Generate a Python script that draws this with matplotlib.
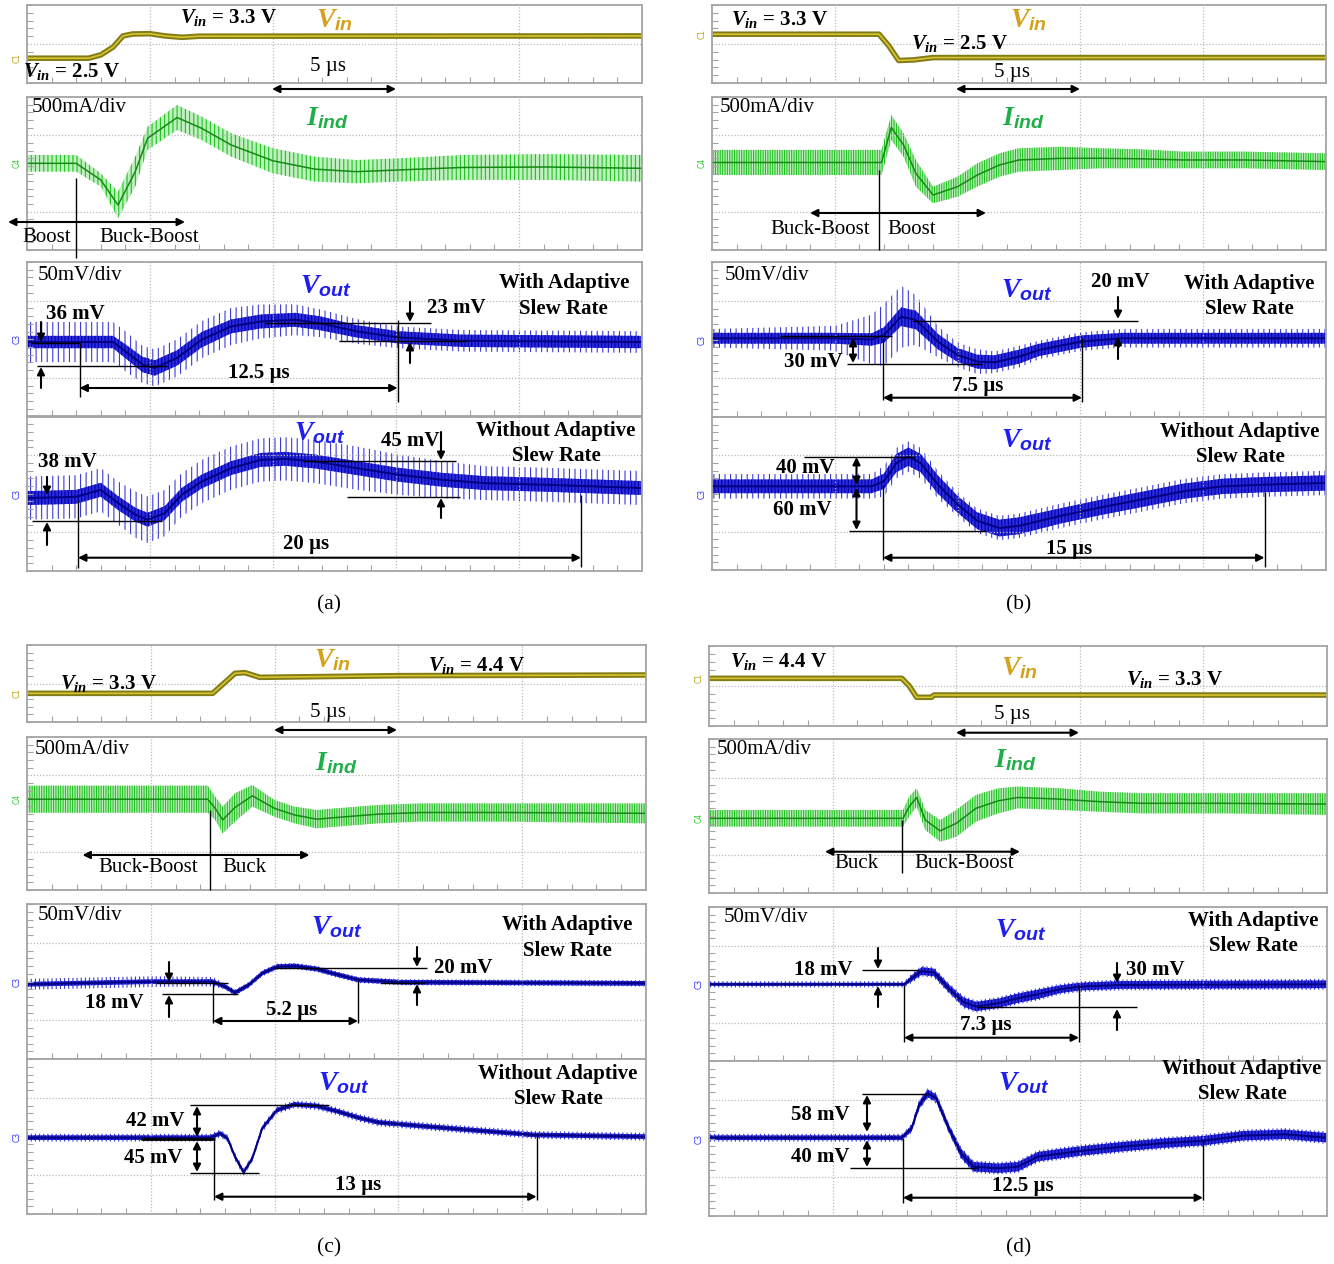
import numpy as np
import matplotlib
matplotlib.use('Agg')
import matplotlib.pyplot as plt
import matplotlib.transforms as mtrans

plt.rcParams['mathtext.fontset'] = 'custom'
plt.rcParams['mathtext.it'] = 'Liberation Serif:italic:bold'
plt.rcParams['mathtext.rm'] = 'Liberation Serif:bold'
plt.rcParams['mathtext.sf'] = 'Liberation Sans:italic:bold'
plt.rcParams['hatch.linewidth'] = 0.8

# ---------------- values read off the scope shots (time in us) ----------------
# (a) Vin 2.5 V -> 3.3 V
a_vin_t = [0, 2.5, 3.0, 3.5, 3.9, 4.3, 5.0, 5.6, 6.3, 7.0, 25]
a_vin_v = [2.5, 2.5, 2.62, 2.9, 3.3, 3.37, 3.38, 3.3, 3.25, 3.29, 3.3]
a_ind_t = [0, 2.0, 3.0, 3.7, 4.4, 4.9, 6.1, 7.1, 8.3, 10.0, 11.7, 13.4, 15.1, 17.7, 21.1, 25]
a_ind_hi = [121, 121, 1, -119, 110, 306, 448, 372, 263, 165, 110, 88, 99, 121, 127, 121]
a_ind_lo = [12, 12, -86, -293, -86, 154, 284, 219, 110, 1, -53, -64, -53, -42, -42, -53]
a_out1_t = [0, 3.5, 4.0, 4.7, 5.2, 6.1, 7.1, 8.3, 9.5, 10.9, 11.9, 13.4, 15.1, 17.7, 25]
a_out1_mv = [-1.8, -1.8, -7.8, -16.4, -18.6, -12.1, -0.3, 8.3, 11.5, 12.6, 10.4, 5.1, 1.2, -1.0, -1.8]
a_out1_rip = [4, 4, 4.5, 5, 5, 5, 5, 4.5, 4.5, 4.5, 4.5, 4, 4, 4, 4]
a_out1_spk = [13, 13, 13, 12, 12, 12, 12, 12, 11, 10, 9, 8, 7, 7, 7]
a_out2_t = [0, 2.0, 3.0, 3.7, 4.4, 4.9, 5.6, 6.3, 7.1, 8.3, 9.5, 10.5, 11.7, 13.4, 15.1, 16.9, 18.6, 21.1, 25]
a_out2_mv = [-2.8, -2.0, 2.6, -6.0, -13.5, -16.8, -12.5, -0.6, 7.9, 16.6, 21.9, 22.6, 20.9, 16.6, 12.3, 9.0, 6.9, 5.8, 3.7]
a_out2_rip = [4.5] * 19
a_out2_spk = [14, 14, 14, 14, 15, 15, 15, 14, 14, 14, 14, 14, 14, 14, 13, 12, 11, 11, 11]

# (b) Vin 3.3 V -> 2.5 V
b_vin_t = [0, 6.8, 7.2, 7.6, 8.2, 9.0, 25]
b_vin_v = [3.3, 3.3, 2.9, 2.4, 2.42, 2.5, 2.5]
b_ind_t = [0, 6.9, 7.3, 7.8, 8.3, 9.0, 10.0, 10.8, 11.7, 12.5, 14.2, 15.8, 17.5, 19.2, 21.7, 25]
b_ind_hi = [154, 154, 382, 263, 88, -86, -21, 66, 132, 165, 175, 165, 158, 143, 143, 132]
b_ind_lo = [-10, -10, 219, 110, -86, -195, -151, -86, -21, 12, 23, 34, 34, 34, 34, 23]
b_out1_t = [0, 5.0, 6.5, 7.0, 7.7, 8.3, 9.2, 10.0, 10.8, 11.5, 12.5, 13.3, 15.0, 16.7, 25]
b_out1_mv = [0.8, 0.8, 0.0, 2.9, 14.7, 12.6, -1.4, -10.0, -14.3, -14.7, -11.1, -6.8, -1.4, 0.8, 0.8]
b_out1_rip = [3.5, 3.5, 4, 5, 6, 6, 5, 4.5, 4.5, 4.5, 4.5, 4, 4, 3.5, 3.5]
b_out1_spk = [6, 8, 16, 20, 20, 16, 10, 8, 8, 7, 7, 6, 6, 6, 6]
b_out2_t = [0, 6.5, 7.0, 7.5, 8.0, 8.5, 9.2, 10.0, 10.8, 11.7, 12.5, 14.2, 15.8, 17.5, 19.2, 20.8, 22.5, 25]
b_out2_mv = [4.7, 4.7, 8.0, 19.8, 24.1, 19.8, 5.8, -7.1, -17.8, -22.6, -21.1, -14.6, -9.2, -3.9, 1.5, 4.7, 5.8, 6.9]
b_out2_rip = [4.5, 4.5, 5, 6, 6, 6, 6, 5.5, 5.5, 5.5, 5.5, 5, 5, 5, 5, 5, 5, 5]
b_out2_spk = [8, 8, 10, 10, 10, 10, 9, 8, 8, 8, 8, 8, 8, 8, 8, 8, 8, 8]

# (c) Vin 3.3 V -> 4.4 V
c_vin_t = [0, 7.5, 8.4, 8.8, 9.4, 10.5, 15, 25]
c_vin_v = [3.3, 3.3, 4.5, 4.54, 4.26, 4.28, 4.36, 4.4]
c_ind_t = [0, 7.3, 7.6, 7.9, 8.4, 9.1, 10.0, 10.8, 11.7, 12.5, 14.2, 15.9, 19.3, 25]
c_ind_hi = [182, 182, 110, 45, 132, 186, 88, 45, 23, 34, 56, 66, 66, 66]
c_ind_lo = [5, 5, -42, -130, -53, 45, -21, -64, -97, -86, -64, -53, -53, -64]
c_out1_t = [0, 5.0, 7.5, 8.0, 8.4, 8.95, 9.5, 10.1, 10.8, 11.7, 12.5, 13.4, 15.1, 25]
c_out1_mv = [-1.8, -0.1, -0.1, -3.3, -7.2, -2.3, 5.3, 9.6, 10.0, 8.1, 4.6, 1.0, -0.5, -1.2]
c_out1_rip = [1.5] * 14
c_out1_spk = [3.5, 3.5, 3, 2, 2, 2, 2, 2, 2, 2, 2, 2, 2, 2]
c_out2_t = [0, 7.4, 7.8, 8.1, 8.4, 8.75, 9.1, 9.5, 10.1, 10.8, 11.7, 12.5, 13.4, 14.2, 15.9, 17.6, 19.3, 20.5, 25]
c_out2_mv = [-0.75, -0.75, 2.0, -1.2, -13.0, -23.1, -14.1, 5.3, 17.1, 20.7, 19.7, 16.4, 12.1, 9.1, 6.8, 4.6, 2.5, 1.0, -0.1]
c_out2_rip = [1.5] * 19
c_out2_spk = [2.5] * 19

# (d) Vin 4.4 V -> 3.3 V
d_vin_t = [0, 7.8, 8.1, 8.4, 9.0, 9.1, 25]
d_vin_v = [4.4, 4.4, 3.9, 3.15, 3.15, 3.3, 3.3]
d_ind_t = [0, 7.85, 8.1, 8.4, 8.75, 9.35, 10.0, 10.8, 11.7, 12.5, 14.2, 15.8, 17.5, 20.8, 25]
d_ind_hi = [39, 39, 126, 180, 39, -26, 39, 137, 180, 191, 180, 158, 148, 148, 148]
d_ind_lo = [-69, -69, -4, 61, -91, -167, -135, -37, 17, 50, 39, 28, 17, 17, 7]
d_out1_t = [0, 7.9, 8.2, 8.6, 9.1, 9.7, 10.3, 10.8, 11.7, 12.5, 13.3, 14.2, 15.0, 16.7, 25]
d_out1_mv = [-0.2, -0.2, 3.7, 8.4, 7.5, -2.8, -11.8, -14.6, -12.5, -9.2, -6.7, -3.4, -1.7, -0.6, -0.2]
d_out1_rip = [1, 1, 2, 2.5, 2.5, 2.5, 3, 3, 3, 3, 3, 2.5, 2.5, 2.5, 2.5]
d_out1_spk = [2, 2, 3, 3.5, 3.5, 3.5, 4, 4, 4, 4, 4, 3.5, 3.5, 3.5, 3.5]
d_out2_t = [0, 7.8, 8.2, 8.5, 8.85, 9.2, 9.7, 10.2, 10.7, 11.7, 12.5, 13.3, 15.0, 16.7, 18.3, 20.0, 21.6, 23.3, 25]
d_out2_mv = [0.5, 0.5, 6.6, 21.6, 29.1, 25.9, 6.6, -9.6, -18.2, -19.2, -18.2, -11.7, -8.1, -5.3, -3.1, -1.4, 1.8, 2.7, 0.5]
d_out2_rip = [1.5, 1.5, 2, 2.5, 2.5, 2.5, 2.5, 3, 3, 3, 3, 3, 3, 3, 3, 3, 3, 3, 3]
d_out2_spk = [2.5, 2.5, 3, 3.5, 3.5, 3.5, 3.5, 4, 4, 4, 4, 4, 4, 4, 4, 4, 4, 4, 4]

# ---------------- figure ----------------
W, H = 1334, 1264
fig = plt.figure(figsize=(W / 100, H / 100), dpi=100)

SERIF = 'Liberation Serif'
GRID = '#b9b9b9'
FRAME = '#a4a4a4'
VIN_C = '#d3a11c'
IND_C = '#1fae48'
OUT_C = '#1e1ef0'


def add_box(x0, x1, y0, y1):
    return fig.add_axes([x0 / W, 1 - y1 / H, (x1 - x0) / W, (y1 - y0) / H])


def scope_axes(ax, ylo, yhi, ygrid, nminor):
    ax.set_xlim(0, 25)
    ax.set_ylim(ylo, yhi)
    ax.set_xticks([5, 10, 15, 20])
    ax.set_xticks(np.arange(1, 25), minor=True)
    ax.set_yticks(ygrid)
    ax.set_yticks(np.linspace(ylo, yhi, nminor), minor=True)
    ax.grid(True, which='major', color=GRID, lw=0.9, ls=(0, (1, 1.5)))
    ax.tick_params(which='major', length=0, labelleft=False, labelbottom=False)
    ax.tick_params(which='minor', direction='in', length=4, width=0.8, color=FRAME)
    for s in ax.spines.values():
        s.set_color(FRAME)
        s.set_linewidth(1.3)


def chan(ax, y, name, color):
    tr = mtrans.blended_transform_factory(ax.transAxes, ax.transData)
    ax.text(-0.008, y, name, transform=tr, rotation=90, fontsize=5.5, color=color,
            ha='right', va='center', clip_on=False)


def draw_vin(ax, t, v):
    ax.plot(t, v, color='#817c16', lw=4.0)
    ax.plot(t, v, color='#d8c430', lw=1.2)


def draw_ind(ax, t, hi, lo, hatch):
    hi, lo = np.asarray(hi, float), np.asarray(lo, float)
    ax.fill_between(t, lo, hi, facecolor='#c2efc2', edgecolor='#1fc21f', hatch=hatch, lw=0)
    ax.plot(t, (hi + lo) / 2, color='#138a13', lw=1.1)


def draw_vout(ax, t, mv, rip, spk, spk_hatch='||'):
    mv, rip, spk = (np.asarray(a, float) for a in (mv, rip, spk))
    ax.fill_between(t, mv - spk, mv + spk, facecolor='none', edgecolor='#3b3bd6',
                    hatch=spk_hatch, lw=0)
    ax.fill_between(t, mv - rip, mv + rip, facecolor='#2c2cd8', edgecolor='#0000b0',
                    hatch='|||||', lw=0)
    ax.plot(t, mv, color='#000080', lw=1.4)


def panel(x0, x1, vin_box, vin_lim, ind_box, out_box, vin, ind, out1, out2, ind_hatch, spk_hatch):
    ax = add_box(x0, x1, *vin_box)
    scope_axes(ax, vin_lim[0], vin_lim[1], [(vin_lim[0] + vin_lim[1]) / 2], 11)
    draw_vin(ax, *vin)
    chan(ax, vin[1][0], 'C1', '#b8a414')

    ax = add_box(x0, x1, *ind_box)
    scope_axes(ax, -500, 500, [-250, 250], 21)
    draw_ind(ax, *ind, ind_hatch)
    chan(ax, (ind[1][0] + ind[2][0]) / 2, 'C4', '#2ecc2e')

    for (y0, y1), tr in zip([(out_box[0], out_box[1]), (out_box[1], out_box[2])], [out1, out2]):
        ax = add_box(x0, x1, y0, y1)
        scope_axes(ax, -50, 50, [-25, 25], 21)
        draw_vout(ax, *tr, spk_hatch)
        chan(ax, 0, 'C3', '#3030ff')


panel(27, 642, (5, 83), (1.61, 4.41), (97, 250), (262, 416.5, 571),
      (a_vin_t, a_vin_v), (a_ind_t, a_ind_hi, a_ind_lo),
      (a_out1_t, a_out1_mv, a_out1_rip, a_out1_spk),
      (a_out2_t, a_out2_mv, a_out2_rip, a_out2_spk), '||||', '|||')
panel(712, 1326, (5, 83), (1.63, 4.30), (97, 250), (262, 417, 570),
      (b_vin_t, b_vin_v), (b_ind_t, b_ind_hi, b_ind_lo),
      (b_out1_t, b_out1_mv, b_out1_rip, b_out1_spk),
      (b_out2_t, b_out2_mv, b_out2_rip, b_out2_spk), '|||||||', '|||')
panel(27, 646, (645, 722), (1.58, 6.2), (737, 890), (904, 1059, 1214),
      (c_vin_t, c_vin_v), (c_ind_t, c_ind_hi, c_ind_lo),
      (c_out1_t, c_out1_mv, c_out1_rip, c_out1_spk),
      (c_out2_t, c_out2_mv, c_out2_rip, c_out2_spk), '|||||||', '||||')
panel(709, 1327, (646, 726), (1.26, 6.53), (739, 893), (907, 1061, 1216),
      (d_vin_t, d_vin_v), (d_ind_t, d_ind_hi, d_ind_lo),
      (d_out1_t, d_out1_mv, d_out1_rip, d_out1_spk),
      (d_out2_t, d_out2_mv, d_out2_rip, d_out2_spk), '|||||||', '||||')

# ---------------- annotation layer in image pixels ----------------
ov = fig.add_axes([0, 0, 1, 1], zorder=10)
ov.set_xlim(0, W)
ov.set_ylim(H, 0)
ov.axis('off')
ov.patch.set_alpha(0)


def txt(x, y, s, size=15, bold=False, color='k'):
    ov.text(x, y, s, fontsize=size, fontweight='bold' if bold else 'normal',
            family=SERIF, color=color, ha='center', va='center')


def seg(x0, y0, x1, y1, lw=1.0):
    ov.plot([x0, x1], [y0, y1], color='k', lw=lw, solid_capstyle='butt')


def arrow(x0, y0, x1, y1, both=False, lw=1.5):
    ov.annotate('', xy=(x1, y1), xytext=(x0, y0),
                arrowprops=dict(arrowstyle='<|-|>' if both else '-|>', color='k', lw=lw,
                                mutation_scale=11, shrinkA=0, shrinkB=0))


VIN_LBL = r'$V_{\mathsf{in}}$'
IND_LBL = r'$I_{\mathsf{ind}}$'
OUT_LBL = r'$V_{\mathsf{out}}$'

# ---- (a)
txt(229, 18, r'$V_{in}$ = 3.3 V', bold=True)
txt(334, 20, VIN_LBL, 20, color=VIN_C)
txt(72, 72, r'$V_{in}$ = 2.5 V', bold=True)
txt(328, 66, '5 µs')
arrow(272, 89, 396, 89, both=True)
txt(79, 107, '500mA/div')
txt(327, 118, IND_LBL, 20, color=IND_C)
seg(76, 178, 76, 258)
arrow(8, 222, 185, 222, both=True)
txt(47, 237, 'Boost')
txt(149, 237, 'Buck-Boost')
txt(80, 276, '50mV/div')
txt(326, 286, OUT_LBL, 20, color=OUT_C)
txt(564, 283, 'With Adaptive', bold=True)
txt(563, 309, 'Slew Rate', bold=True)
txt(75, 314, '36 mV', bold=True)
arrow(41, 322, 41, 342)
seg(32, 343, 80, 343)
seg(37, 366, 167, 366)
arrow(41, 388, 41, 367)
seg(79.5, 343, 79.5, 397)
arrow(79.5, 388, 397.6, 388, both=True)
txt(259, 373, '12.5 µs', bold=True)
seg(397.6, 320, 397.6, 402)
seg(265, 322.7, 431, 322.7)
seg(339, 340.7, 467, 340.7)
arrow(410, 302, 410, 322)
arrow(410, 363, 410, 342)
txt(456, 308, '23 mV', bold=True)
txt(320, 433, OUT_LBL, 20, color=OUT_C)
txt(556, 431, 'Without Adaptive', bold=True)
txt(556, 456, 'Slew Rate', bold=True)
txt(67, 462, '38 mV', bold=True)
arrow(47, 477, 47, 495)
seg(32, 520.7, 162, 520.7)
arrow(47, 545, 47, 522)
seg(78, 500, 78, 568)
arrow(78, 557.7, 581, 557.7, both=True)
txt(306, 544, '20 µs', bold=True)
seg(581, 495, 581, 567)
seg(303, 461, 456, 461)
arrow(441, 432, 441, 460)
txt(410, 441, '45 mV', bold=True)
seg(347, 497, 460, 497)
arrow(441, 518, 441, 498)
txt(329, 605, '(a)', 15.5)

# ---- (b)
txt(780, 19, r'$V_{in}$ = 3.3 V', bold=True)
txt(1028, 20, VIN_LBL, 20, color=VIN_C)
txt(960, 43, r'$V_{in}$ = 2.5 V', bold=True)
txt(1012, 73, '5 µs')
arrow(956, 89, 1080, 89, both=True)
txt(767, 107, '500mA/div')
txt(1023, 118, IND_LBL, 20, color=IND_C)
seg(879, 170, 879, 250)
arrow(810, 213, 986, 213, both=True)
txt(820, 229, 'Buck-Boost')
txt(912, 229, 'Boost')
txt(767, 276, '50mV/div')
txt(1027, 290, OUT_LBL, 20, color=OUT_C)
txt(1249, 284, 'With Adaptive', bold=True)
txt(1249, 309, 'Slew Rate', bold=True)
seg(779.5, 336, 892, 336)
seg(847, 364, 982, 364)
arrow(853, 338, 853, 363, both=True)
txt(813, 362, '30 mV', bold=True)
seg(883, 338, 883, 400)
arrow(883, 397.7, 1082, 397.7, both=True)
txt(978, 386, '7.5 µs', bold=True)
seg(1082, 338, 1082, 402)
seg(912.6, 320.7, 1138, 320.7)
arrow(1118, 297, 1118, 319)
arrow(1118, 359, 1118, 337)
txt(1120, 282, '20 mV', bold=True)
txt(1027, 440, OUT_LBL, 20, color=OUT_C)
txt(1240, 432, 'Without Adaptive', bold=True)
txt(1240, 457, 'Slew Rate', bold=True)
seg(804, 456.7, 915, 456.7)
seg(849, 531, 986, 531)
arrow(856.5, 457, 856.5, 485, both=True)
arrow(856.5, 488, 856.5, 530, both=True)
txt(805, 468, '40 mV', bold=True)
txt(802, 510, '60 mV', bold=True)
seg(883, 485, 883, 560)
arrow(883, 557.7, 1264.5, 557.7, both=True)
txt(1069, 549, '15 µs', bold=True)
seg(1264.5, 492, 1264.5, 567)
txt(1019, 605, '(b)', 15.5)

# ---- (c)
txt(109, 683, r'$V_{in}$ = 3.3 V', bold=True)
txt(332, 660, VIN_LBL, 20, color=VIN_C)
txt(477, 665, r'$V_{in}$ = 4.4 V', bold=True)
txt(328, 712, '5 µs')
arrow(274, 730, 397, 730, both=True)
txt(82, 749, '500mA/div')
txt(336, 763, IND_LBL, 20, color=IND_C)
seg(209.5, 810, 209.5, 890)
arrow(82.5, 855, 309.5, 855, both=True)
txt(148, 867, 'Buck-Boost')
txt(244, 867, 'Buck')
txt(80, 916, '50mV/div')
txt(337, 927, OUT_LBL, 20, color=OUT_C)
txt(567, 925, 'With Adaptive', bold=True)
txt(567, 951, 'Slew Rate', bold=True)
seg(156, 982.7, 228, 982.7)
arrow(169, 962, 169, 982)
seg(162, 994, 238, 994)
arrow(169, 1017, 169, 995)
txt(114, 1003, '18 mV', bold=True)
seg(213, 983, 213, 1023)
arrow(213, 1021, 358, 1021, both=True)
txt(292, 1010, '5.2 µs', bold=True)
seg(358, 980, 358, 1023)
seg(274, 967.7, 427, 967.7)
arrow(417, 947, 417, 967)
seg(381, 983, 425, 983)
arrow(417, 1005, 417, 984)
txt(463, 968, '20 mV', bold=True)
txt(344, 1083, OUT_LBL, 20, color=OUT_C)
txt(558, 1074, 'Without Adaptive', bold=True)
txt(558, 1099, 'Slew Rate', bold=True)
seg(190, 1105, 328.5, 1105)
seg(141, 1139, 215, 1139, lw=2)
seg(190, 1173, 259, 1173)
arrow(197, 1106, 197, 1137, both=True)
arrow(197, 1141, 197, 1172, both=True)
txt(155, 1121, '42 mV', bold=True)
txt(153, 1158, '45 mV', bold=True)
seg(214, 1140, 214, 1200)
arrow(214, 1196.7, 536.6, 1196.7, both=True)
txt(358, 1185, '13 µs', bold=True)
seg(536.6, 1135, 536.6, 1200)
txt(329, 1248, '(c)', 15.5)

# ---- (d)
txt(779, 661, r'$V_{in}$ = 4.4 V', bold=True)
txt(1019, 668, VIN_LBL, 20, color=VIN_C)
txt(1175, 679, r'$V_{in}$ = 3.3 V', bold=True)
txt(1012, 714, '5 µs')
arrow(956, 732.7, 1079, 732.7, both=True)
txt(764, 750, '500mA/div')
txt(1015, 760, IND_LBL, 20, color=IND_C)
seg(902, 820, 902, 873)
arrow(825, 851.7, 1020, 851.7, both=True)
txt(856, 864, 'Buck')
txt(964, 864, 'Buck-Boost')
txt(766, 918, '50mV/div')
txt(1021, 930, OUT_LBL, 20, color=OUT_C)
txt(1253, 921, 'With Adaptive', bold=True)
txt(1253, 946, 'Slew Rate', bold=True)
seg(862, 970, 919, 970)
arrow(878, 948, 878, 969)
arrow(878, 1007, 878, 986)
txt(823, 970, '18 mV', bold=True)
seg(904, 985, 904, 1042)
arrow(904, 1037.7, 1079, 1037.7, both=True)
txt(986, 1025, '7.3 µs', bold=True)
seg(1079, 985, 1079, 1042)
seg(977, 1007, 1137, 1007)
arrow(1117, 963, 1117, 983)
arrow(1117, 1030, 1117, 1009)
txt(1155, 970, '30 mV', bold=True)
txt(1024, 1083, OUT_LBL, 20, color=OUT_C)
txt(1242, 1069, 'Without Adaptive', bold=True)
txt(1242, 1094, 'Slew Rate', bold=True)
seg(862, 1094, 926, 1094)
arrow(867, 1095, 867, 1132, both=True)
arrow(867, 1140, 867, 1167, both=True)
txt(820, 1115, '58 mV', bold=True)
txt(820, 1157, '40 mV', bold=True)
seg(849.6, 1168, 977, 1168)
seg(903, 1138, 903, 1203)
arrow(903, 1197.7, 1203, 1197.7, both=True)
txt(1023, 1186, '12.5 µs', bold=True)
seg(1203, 1140, 1203, 1200)
txt(1019, 1248, '(d)', 15.5)

fig.savefig('out.png', dpi=100, facecolor='white')
